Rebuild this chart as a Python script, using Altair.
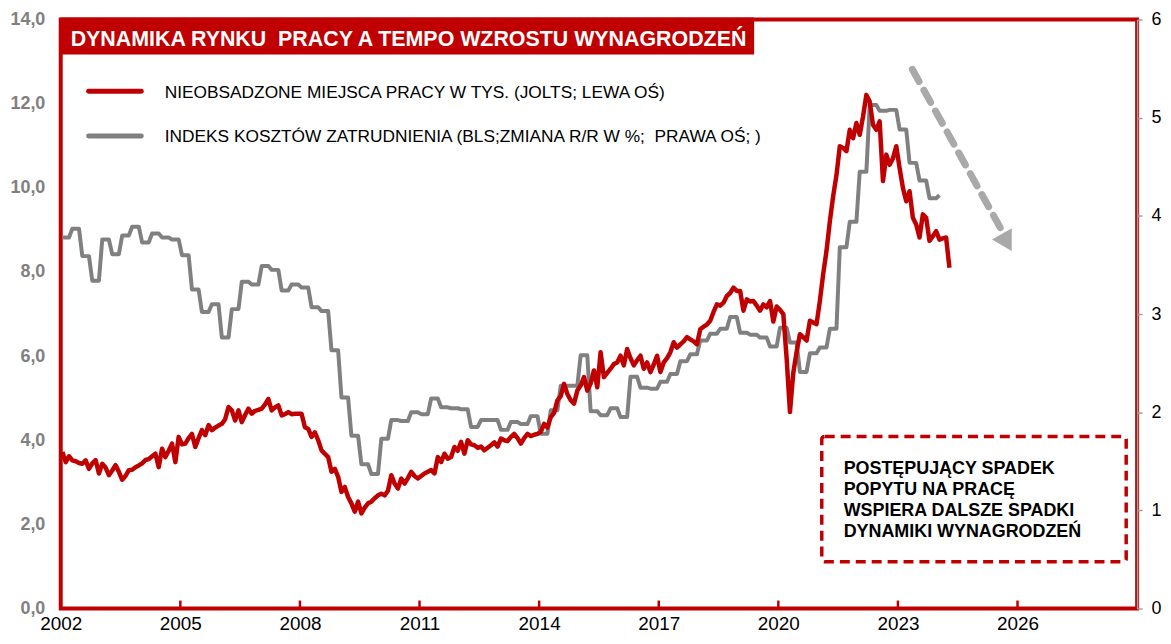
import altair as alt
import pandas as pd

FONT = "Liberation Sans, Arial, sans-serif"
RED = "#C00000"
GRAY = "#808080"
ARROW_GRAY = "#A9A9A9"

# ---- JOLTS job openings (mln), monthly, left axis ----
red_2002 = [3.72, 3.48, 3.62, 3.52, 3.50, 3.46, 3.44, 3.52, 3.32, 3.45, 3.53, 3.21]
red_2003 = [3.44, 3.35, 3.17, 3.28, 3.41, 3.25, 3.06, 3.15, 3.29, 3.30, 3.36, 3.40]
red_2004 = [3.45, 3.53, 3.55, 3.62, 3.68, 3.36, 3.80, 3.60, 3.75, 3.92, 3.48, 4.08]
red_2005 = [3.90, 3.92, 4.05, 4.15, 3.84, 4.05, 4.24, 4.12, 4.36, 4.24, 4.30, 4.35]
red_2006 = [4.39, 4.50, 4.79, 4.71, 4.47, 4.71, 4.43, 4.60, 4.75, 4.63, 4.70, 4.72]
red_2007 = [4.75, 4.85, 4.98, 4.71, 4.78, 4.83, 4.59, 4.62, 4.67, 4.62, 4.63, 4.63]
red_2008 = [4.63, 4.31, 4.27, 4.08, 4.19, 4.00, 3.76, 3.68, 3.60, 3.25, 3.32, 3.13]
red_2009 = [2.77, 2.89, 2.65, 2.50, 2.30, 2.54, 2.26, 2.40, 2.50, 2.54, 2.62, 2.69]
red_2010 = [2.73, 2.69, 2.80, 3.17, 2.97, 2.85, 3.09, 2.97, 3.10, 3.25, 3.15, 3.09]
red_2011 = [3.15, 3.21, 3.25, 3.29, 3.21, 3.60, 3.48, 3.68, 3.56, 3.60, 3.84, 3.75]
red_2012 = [3.96, 3.68, 4.00, 3.90, 3.88, 3.82, 3.85, 3.76, 3.82, 3.88, 3.95, 3.85]
red_2013 = [4.04, 4.00, 3.98, 4.08, 4.15, 4.05, 3.92, 4.05, 4.15, 4.10, 4.13, 4.15]
red_2014 = [4.20, 4.39, 4.30, 4.55, 4.65, 4.95, 5.05, 5.34, 5.10, 4.95, 4.87, 5.18]
red_2015 = [5.30, 5.50, 5.18, 5.35, 5.66, 5.26, 6.09, 5.50, 5.60, 5.70, 5.81, 5.85]
red_2016 = [6.01, 5.78, 6.17, 5.95, 5.78, 5.90, 6.01, 5.70, 5.85, 5.62, 5.80, 6.01]
red_2017 = [5.62, 5.85, 5.95, 6.09, 6.33, 6.20, 6.28, 6.35, 6.45, 6.40, 6.35, 6.28]
red_2018 = [6.64, 6.70, 6.75, 6.84, 7.05, 7.23, 7.20, 7.27, 7.43, 7.50, 7.63, 7.55]
red_2019 = [7.55, 7.08, 7.35, 7.30, 7.31, 7.20, 7.08, 7.23, 7.16, 7.31, 6.82, 7.18]
red_2020 = [7.10, 7.00, 5.95, 4.67, 5.60, 6.10, 6.52, 6.45, 6.37, 6.84, 6.80, 6.76]
red_2021 = [7.31, 7.95, 8.50, 9.20, 9.80, 10.30, 10.99, 10.95, 10.87, 11.38, 11.18, 11.54]
red_2022 = [11.26, 11.70, 12.21, 12.05, 11.50, 11.38, 11.58, 10.16, 10.79, 10.55, 10.70, 10.99]
red_2023 = [10.47, 10.00, 9.68, 9.92, 9.29, 9.13, 8.82, 9.37, 9.29, 8.74, 8.85, 8.97]
red_2024 = [8.77, 8.80, 8.82, 8.10]

red_years = [red_2002, red_2003, red_2004, red_2005, red_2006, red_2007, red_2008,
             red_2009, red_2010, red_2011, red_2012, red_2013, red_2014, red_2015,
             red_2016, red_2017, red_2018, red_2019, red_2020, red_2021, red_2022,
             red_2023, red_2024]

# ---- ECI y/y % (quarterly values, shown monthly), right axis ----
gray_2002 = [3.78, 3.87, 3.59, 3.34]
gray_2003 = [3.76, 3.61, 3.80, 3.89]
gray_2004 = [3.73, 3.82, 3.78, 3.76]
gray_2005 = [3.60, 3.25, 3.02, 3.10]
gray_2006 = [2.76, 3.05, 3.33, 3.30]
gray_2007 = [3.49, 3.45, 3.24, 3.30]
gray_2008 = [3.27, 3.07, 3.03, 2.63]
gray_2009 = [2.15, 1.76, 1.47, 1.37]
gray_2010 = [1.73, 1.92, 1.91, 2.00]
gray_2011 = [1.98, 2.14, 2.05, 2.04]
gray_2012 = [2.03, 1.85, 1.92, 1.92]
gray_2013 = [1.82, 1.90, 1.88, 1.96]
gray_2014 = [1.78, 2.02, 2.27, 2.27]
gray_2015 = [2.58, 2.01, 1.97, 2.04]
gray_2016 = [1.95, 2.36, 2.25, 2.24]
gray_2017 = [2.31, 2.39, 2.52, 2.59]
gray_2018 = [2.73, 2.80, 2.85, 2.97]
gray_2019 = [2.81, 2.79, 2.76, 2.67]
gray_2020 = [2.86, 2.71, 2.41, 2.60]
gray_2021 = [2.66, 2.85, 3.68, 3.94]
gray_2022 = [4.45, 5.13, 5.07, 5.08]
gray_2023 = [4.88, 4.54, 4.36, 4.18]
gray_2024 = [4.21]
gray_2024_months = 1

gray_years = [gray_2002, gray_2003, gray_2004, gray_2005, gray_2006, gray_2007,
              gray_2008, gray_2009, gray_2010, gray_2011, gray_2012, gray_2013,
              gray_2014, gray_2015, gray_2016, gray_2017, gray_2018, gray_2019,
              gray_2020, gray_2021, gray_2022, gray_2023, gray_2024]

x_ticks = [2002, 2005, 2008, 2011, 2014, 2017, 2020, 2023, 2026]
left_ticks = [0, 2, 4, 6, 8, 10, 12, 14]
right_ticks = [0, 1, 2, 3, 4, 5, 6]

NB = "\u00a0"
title_text = "DYNAMIKA RYNKU" + NB + " PRACY A TEMPO WZROSTU WYNAGRODZEŃ"
legend_red = "NIEOBSADZONE MIEJSCA PRACY W TYS. (JOLTS; LEWA OŚ)"
legend_gray = "INDEKS KOSZTÓW ZATRUDNIENIA (BLS;ZMIANA R/R W %;" + NB + " PRAWA OŚ; )"
note_lines = ["POSTĘPUJĄCY SPADEK", "POPYTU NA PRACĘ",
              "WSPIERA DALSZE SPADKI", "DYNAMIKI WYNAGRODZEŃ"]

# ---- build tables ----
red_rows = []
for k, vals in enumerate(red_years):
    year = 2002 + k
    for i, v in enumerate(vals):
        red_rows.append({"t": year + (i + 0.5) / 12, "v": v})
df_red = pd.DataFrame(red_rows)

gray_rows = []
for k, qvals in enumerate(gray_years):
    year = 2002 + k
    for q, v in enumerate(qvals):
        nmonths = 3
        if year == 2024:
            nmonths = gray_2024_months
        for m in range(nmonths):
            gray_rows.append({"t": year + (3 * q + m + 0.5) / 12, "v": v})
df_gray = pd.DataFrame(gray_rows)

W, H = 1082, 592
one = pd.DataFrame({"a": [0]})

x_scale = alt.Scale(domain=[2002, 2029], nice=False, zero=False)
x_axis = alt.Axis(values=x_ticks, format="d", labelFontSize=19, labelColor="#000000",
                  labelFont=FONT, domain=False, ticks=False, grid=False,
                  labelPadding=6, title=None, labelFlush=False)

gray_line = alt.Chart(df_gray).mark_line(
    color=GRAY, strokeWidth=4, strokeJoin="round"
).encode(
    x=alt.X("t:Q", scale=x_scale, axis=x_axis),
    y=alt.Y("v:Q", scale=alt.Scale(domain=[0, 6], nice=False, zero=True),
            axis=alt.Axis(orient="right", values=right_ticks, format="d",
                          labelFontSize=18, labelColor="#000000", labelFont=FONT,
                          domain=True, domainColor="#A0A0A0", domainWidth=1.5,
                          ticks=True, tickColor="#A0A0A0", tickSize=5, tickWidth=1.5,
                          grid=False, labelPadding=9, title=None))
)

red_line = alt.Chart(df_red).mark_line(
    color=RED, strokeWidth=4.5, strokeJoin="round"
).encode(
    x=alt.X("t:Q", scale=x_scale, axis=x_axis),
    y=alt.Y("v:Q", scale=alt.Scale(domain=[0, 14], nice=False, zero=True),
            axis=alt.Axis(orient="left", values=left_ticks,
                          labelExpr="replace(format(datum.value, '.1f'), '.', ',')",
                          labelFontSize=18, labelFontWeight="bold", labelColor=GRAY,
                          labelFont=FONT, domain=False, ticks=False, grid=False,
                          labelPadding=16, title=None))
)

tick_marks = alt.Chart(pd.DataFrame({"year": x_ticks[1:]})).mark_rule(
    color=RED, strokeWidth=2.5
).encode(
    x=alt.X("year:Q", scale=x_scale, axis=x_axis),
    y=alt.value(H - 8), y2=alt.value(H)
)

title_bar = alt.Chart(one).mark_rect(color=RED).encode(
    x=alt.value(0), x2=alt.value(697), y=alt.value(-2), y2=alt.value(35)
)
title_label = alt.Chart(one).mark_text(
    align="left", baseline="alphabetic", fontSize=21.5, fontWeight="bold",
    color="white", font=FONT
).encode(x=alt.value(10), y=alt.value(27), text=alt.value(title_text))

leg_red_line = alt.Chart(one).mark_rule(color=RED, strokeWidth=5, strokeCap="round").encode(
    x=alt.value(28), x2=alt.value(81), y=alt.value(72)
)
leg_red_text = alt.Chart(one).mark_text(
    align="left", baseline="alphabetic", fontSize=17.4, color="#000000", font=FONT
).encode(x=alt.value(104.5), y=alt.value(78.5), text=alt.value(legend_red))
leg_gray_line = alt.Chart(one).mark_rule(color=GRAY, strokeWidth=5, strokeCap="round").encode(
    x=alt.value(28), x2=alt.value(81), y=alt.value(117)
)
leg_gray_text = alt.Chart(one).mark_text(
    align="left", baseline="alphabetic", fontSize=17.4, color="#000000", font=FONT
).encode(x=alt.value(104.5), y=alt.value(123), text=alt.value(legend_gray))

note_box = alt.Chart(one).mark_rect(
    fill="white", stroke=RED, strokeWidth=3.5, strokeDash=[10, 6], cornerRadius=3
).encode(x=alt.value(765), x2=alt.value(1071), y=alt.value(419), y2=alt.value(545))
note_text = alt.Chart(one).mark_text(
    align="left", baseline="alphabetic", fontSize=18, fontWeight="bold",
    color="#000000", font=FONT, lineHeight=21.2
).encode(x=alt.value(787), y=alt.value(457), text=alt.value(note_lines))

arrow_line = alt.Chart(one).mark_rule(
    color=ARROW_GRAY, strokeWidth=7, strokeDash=[14, 10], strokeCap="round"
).encode(x=alt.value(856), y=alt.value(50), x2=alt.value(946), y2=alt.value(212))
arrow_head = alt.Chart(one).mark_point(
    shape="triangle-down", filled=True, size=520, angle=330, color=ARROW_GRAY, opacity=1
).encode(x=alt.value(951), y=alt.value(224))

chart = alt.layer(
    gray_line, red_line, tick_marks, title_bar, title_label,
    leg_red_line, leg_red_text, leg_gray_line, leg_gray_text,
    note_box, note_text, arrow_line, arrow_head
).resolve_scale(
    y="independent"
).properties(
    width=W, height=H,
    autosize=alt.AutoSizeParams(type="none"),
    padding={"left": 53, "top": 10, "right": 26, "bottom": 26},
    background="white"
).configure_view(
    stroke=RED, strokeWidth=4
)

chart.save("out.html", embed_options={"renderer": "svg", "actions": False})
